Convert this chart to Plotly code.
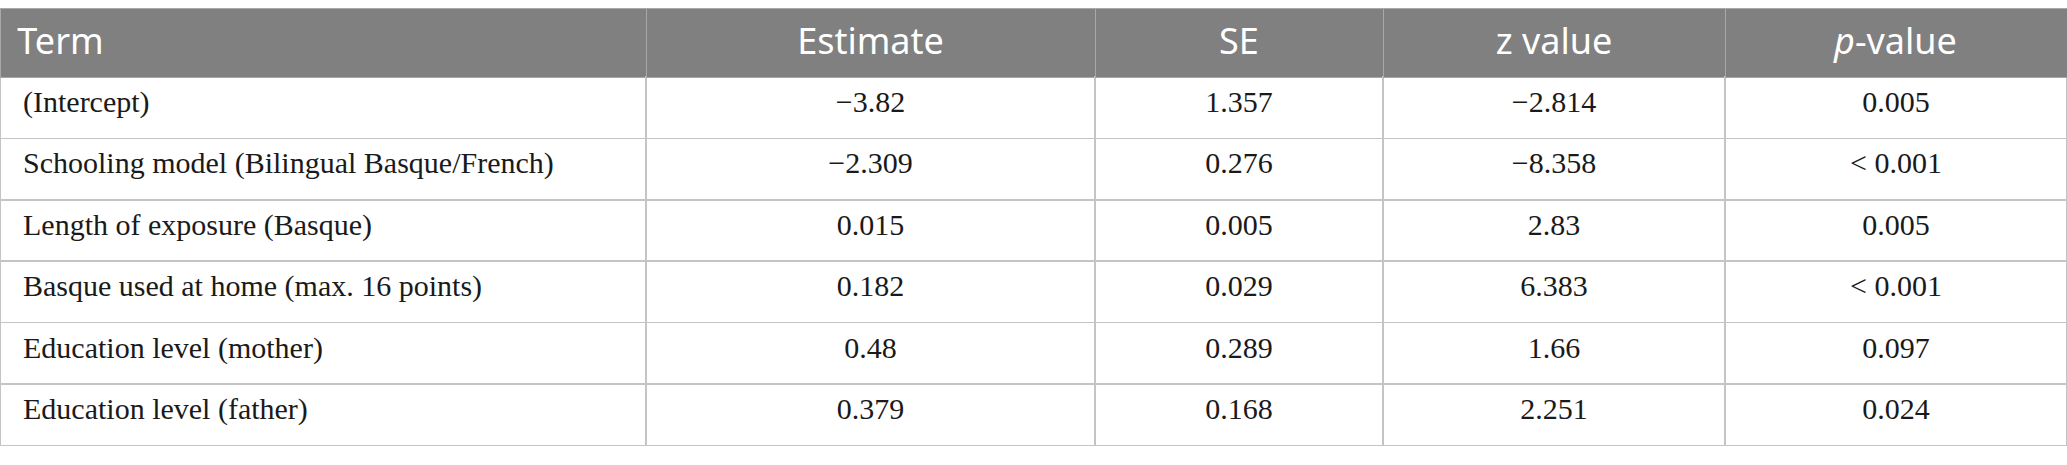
import plotly.graph_objects as go

# Table contents
terms = ["(Intercept)", "Schooling model (Bilingual Basque/French)",
         "Length of exposure (Basque)", "Basque used at home (max. 16 points)",
         "Education level (mother)", "Education level (father)"]
estimate = ["\u22123.82", "\u22122.309", "0.015", "0.182", "0.48", "0.379"]
se = ["1.357", "0.276", "0.005", "0.029", "0.289", "0.168"]
z_value = ["\u22122.814", "\u22128.358", "2.83", "6.383", "1.66", "2.251"]
p_value = ["0.005", "&lt; 0.001", "0.005", "&lt; 0.001", "0.097", "0.024"]
headers = ["Term", "Estimate", "SE", "z value", "<i>p</i>-value"]


# wrap every string in a span so plotly places all of them the same way
def wrap(vals, pad=""):
    return ["<span>" + pad + v + "</span>" for v in vals]


header_vals = wrap(headers[:1], "\u00a0") + wrap(headers[1:])
cell_vals = [wrap(terms, "\u00a0\u00a0"), wrap(estimate), wrap(se),
             wrap(z_value), wrap(p_value)]

fig = go.Figure(go.Table(
    columnwidth=[646, 449, 288, 342, 342],
    header=dict(values=header_vals,
                fill_color="#7f807f",
                line=dict(color="#a8a8a8", width=1),
                align=["left", "center", "center", "center", "center"],
                font=dict(family="Noto Sans", size=36, color="white"),
                height=69),
    cells=dict(values=cell_vals,
               fill_color="white",
               line=dict(color="#c4c4c4", width=1.5),
               align=["left", "center", "center", "center", "center"],
               font=dict(family="Liberation Serif", size=30, color="#1a1a1a"),
               height=61.4)
))

fig.update_layout(width=2067, height=465,
                  margin=dict(l=0, r=0, t=8, b=18),
                  paper_bgcolor="white")

fig.write_html("out.html", config={"displayModeBar": False},
               post_script="document.body.style.margin='0';document.body.style.overflow='hidden';")
